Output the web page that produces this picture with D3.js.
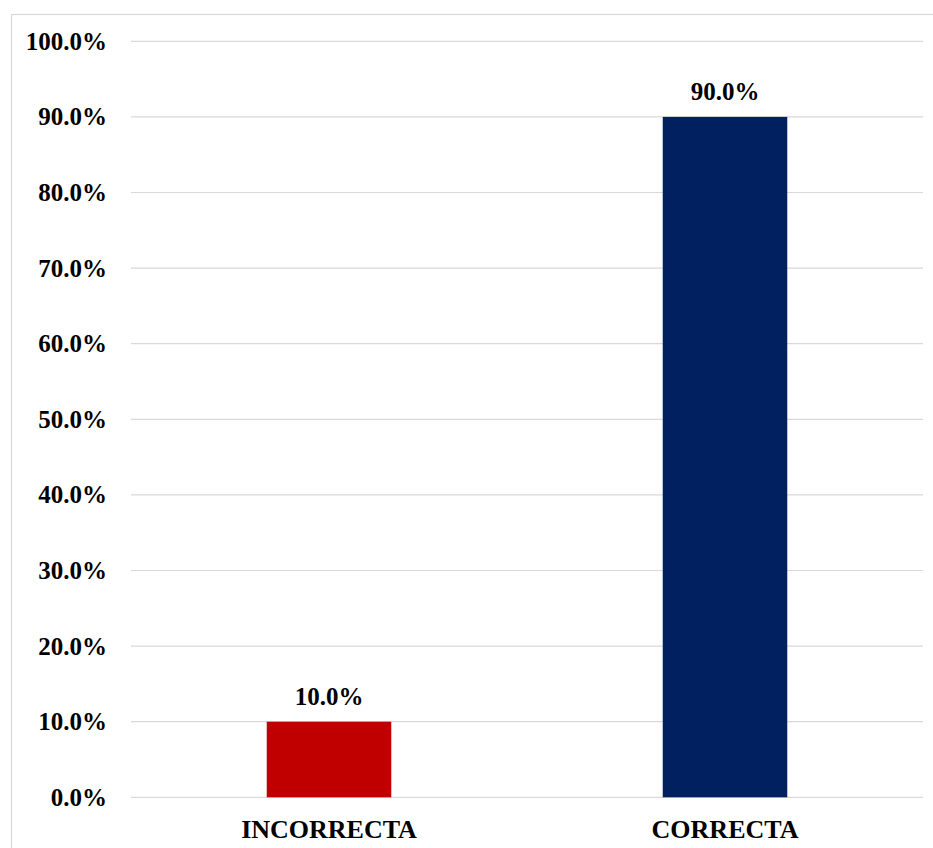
<!DOCTYPE html>
<html>
<head>
<meta charset="utf-8">
<script src="https://cdn.jsdelivr.net/npm/d3@7"></script>
<style>
  html, body { margin: 0; padding: 0; background: #ffffff; }
  svg { display: block; }
</style>
</head>
<body>
<svg id="chart" width="933" height="848"></svg>
<script>
// Response categories and their share of answers
const categories = ["INCORRECTA", "CORRECTA"];
const values = [0.10, 0.90];
const barColors = ["#C00000", "#002060"];
const tickValues = [0, 0.1, 0.2, 0.3, 0.4, 0.5, 0.6, 0.7, 0.8, 0.9, 1.0];

const svg = d3.select("#chart");
const W = 933, H = 848;
const plot = { left: 131, right: 923, top: 41.3, bottom: 797.3 };
const fontFamily = "'Liberation Serif', 'Times New Roman', serif";
const pct = d3.format(".1%");

// Outer chart frame
svg.append("rect")
  .attr("x", 11.5).attr("y", 14.5)
  .attr("width", W + 20).attr("height", H + 20)
  .attr("fill", "#ffffff")
  .attr("stroke", "#d9d9d9")
  .attr("stroke-width", 1.2);

const x = d3.scaleBand()
  .domain(categories)
  .range([plot.left, plot.right])
  .padding(0);

const y = d3.scaleLinear()
  .domain([0, 1])
  .range([plot.bottom, plot.top]);

const barWidth = x.bandwidth() / 3.18;

// Horizontal gridlines
svg.append("g")
  .selectAll("line")
  .data(tickValues)
  .join("line")
  .attr("x1", plot.left)
  .attr("x2", plot.right)
  .attr("y1", d => y(d))
  .attr("y2", d => y(d))
  .attr("stroke", "#d9d9d9")
  .attr("stroke-width", 1.2);

// Y axis labels
const yAxis = d3.axisLeft(y)
  .tickValues(tickValues)
  .tickFormat(pct)
  .tickSize(0)
  .tickPadding(24);

const gy = svg.append("g")
  .attr("transform", `translate(${plot.left},0)`)
  .call(yAxis);
gy.select(".domain").remove();
gy.selectAll("text")
  .attr("font-family", fontFamily)
  .attr("font-weight", "bold")
  .attr("font-size", "25px")
  .attr("fill", "#000");

// Bars
svg.append("g")
  .selectAll("rect")
  .data(categories)
  .join("rect")
  .attr("x", (d) => x(d) + x.bandwidth() / 2 - barWidth / 2)
  .attr("width", barWidth)
  .attr("y", (d, i) => y(values[i]))
  .attr("height", (d, i) => y(0) - y(values[i]))
  .attr("fill", (d, i) => barColors[i]);

// Value labels above bars
svg.append("g")
  .selectAll("text")
  .data(categories)
  .join("text")
  .attr("x", (d) => x(d) + x.bandwidth() / 2)
  .attr("y", (d, i) => y(values[i]) - 17)
  .attr("text-anchor", "middle")
  .attr("font-family", fontFamily)
  .attr("font-weight", "bold")
  .attr("font-size", "25px")
  .attr("fill", "#000")
  .text((d, i) => pct(values[i]));

// X axis category labels
const xAxis = d3.axisBottom(x).tickSize(0).tickPadding(22);
const gx = svg.append("g")
  .attr("transform", `translate(0,${plot.bottom})`)
  .call(xAxis);
gx.select(".domain").remove();
gx.selectAll("text")
  .attr("font-family", fontFamily)
  .attr("font-weight", "bold")
  .attr("font-size", "26px")
  .attr("fill", "#000");
</script>
</body>
</html>
